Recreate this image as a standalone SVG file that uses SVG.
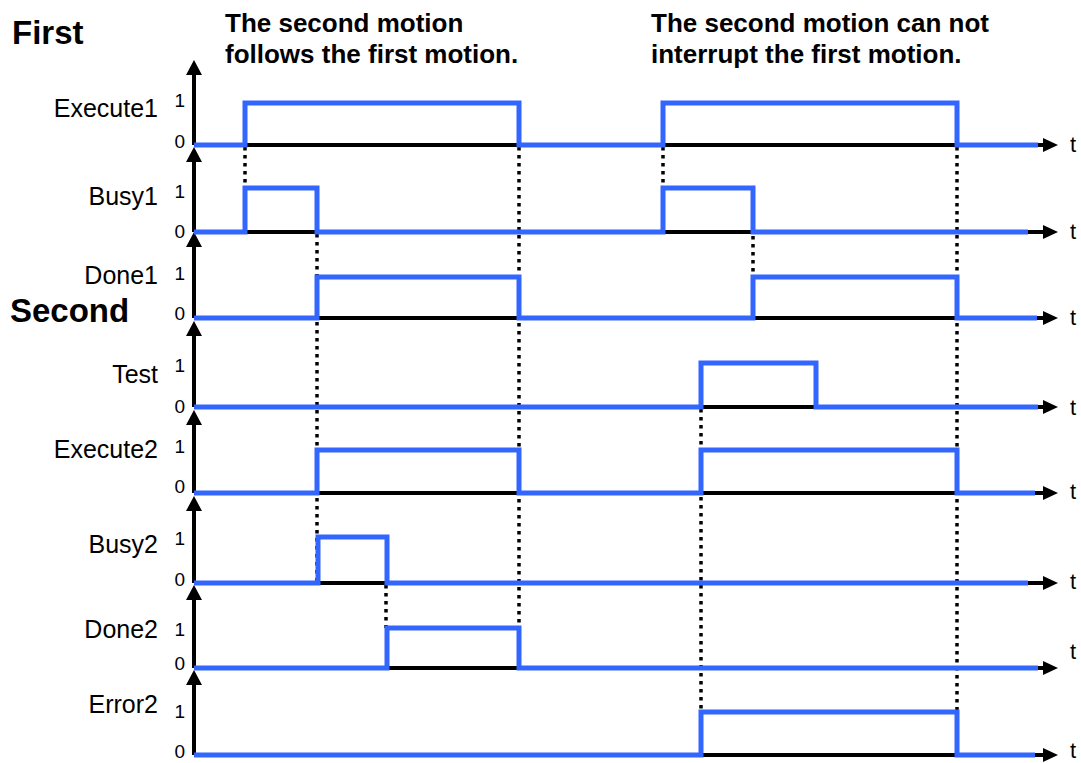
<svg xmlns="http://www.w3.org/2000/svg" width="1081" height="763" viewBox="0 0 1081 763">
<style>
.title{font-family:"Liberation Sans",Arial,sans-serif;font-weight:bold;fill:#000}
.big{font-size:33px}
.head{font-size:26px}
.lbl{font-family:"Liberation Sans",Arial,sans-serif;font-size:25px;fill:#000;text-anchor:end}
.num{font-family:"Liberation Sans",Arial,sans-serif;font-size:19px;fill:#000;text-anchor:end}
.t{font-family:"Liberation Sans",Arial,sans-serif;font-size:22px;fill:#000}
.axis{stroke:#000;stroke-width:4;fill:none}
.head-arrow{fill:#000}
.dot{stroke:#000;stroke-width:3.5;stroke-dasharray:3.5,4.5;fill:none}
.sig{stroke:#3366ff;stroke-width:5;fill:none;stroke-linejoin:miter}
</style>
<rect width="1081" height="763" fill="#fff"/>
<g id="titles">
<text class="title big" x="12" y="44">First</text>
<text class="title big" x="10" y="322">Second</text>
<text class="title head" x="225" y="32">The second motion</text>
<text class="title head" x="225" y="63">follows the first motion.</text>
<text class="title head" x="651" y="32">The second motion can not</text>
<text class="title head" x="651" y="63">interrupt the first motion.</text>
</g>
<g id="axes">
<path class="axis" d="M194,70V145M194,157V232M194,242V318M194,331V407M194,420V493M194,506V583M194,595V668M194,680V755"/>
<path class="axis" d="M194,145H1045M194,232H1045M194,318H1045M194,407H1045M194,493H1045M194,583H1045M194,668H1045M194,755H1045"/>
<g class="head-arrow">
<polygon points="194,60 186,75 202,75"/>
<polygon points="194,147 186,162 202,162"/>
<polygon points="194,232 186,247 202,247"/>
<polygon points="194,321 186,336 202,336"/>
<polygon points="194,410 186,425 202,425"/>
<polygon points="194,496 186,511 202,511"/>
<polygon points="194,585 186,600 202,600"/>
<polygon points="194,670 186,685 202,685"/>
<polygon points="1043,138 1058,145 1043,152"/>
<polygon points="1043,225 1058,232 1043,239"/>
<polygon points="1043,311 1058,318 1043,325"/>
<polygon points="1043,400 1058,407 1043,414"/>
<polygon points="1043,486 1058,493 1043,500"/>
<polygon points="1043,576 1058,583 1043,590"/>
<polygon points="1043,661 1058,668 1043,675"/>
<polygon points="1043,748 1058,755 1043,762"/>
</g>
</g>
<g id="connectors">
<path class="dot" d="M245,147V188M317,234V583M386,585V628M519,147V628M663,147V188M753,188V277M701,409V712M957,147V712"/>
</g>
<g id="row-execute1">
<text class="lbl" x="158" y="117">Execute1</text>
<text class="num" x="185" y="107">1</text>
<text class="num" x="185" y="148">0</text>
<text class="t" x="1070" y="152">t</text>
<path class="sig" d="M194,145H245V103H519V145H663V103H957V145H1038"/>
</g>
<g id="row-busy1">
<text class="lbl" x="158" y="205">Busy1</text>
<text class="num" x="185" y="198">1</text>
<text class="num" x="185" y="238">0</text>
<text class="t" x="1070" y="239">t</text>
<path class="sig" d="M194,232H245V188H317V232H663V188H753V232H1028"/>
</g>
<g id="row-done1">
<text class="lbl" x="158" y="284">Done1</text>
<text class="num" x="185" y="280">1</text>
<text class="num" x="185" y="320">0</text>
<text class="t" x="1070" y="325">t</text>
<path class="sig" d="M194,318H317V277H519V318H753V277H957V318H1037"/>
</g>
<g id="row-test">
<text class="lbl" x="158" y="383">Test</text>
<text class="num" x="185" y="372">1</text>
<text class="num" x="185" y="413">0</text>
<text class="t" x="1070" y="415">t</text>
<path class="sig" d="M194,407H701V363H816V407H1038"/>
</g>
<g id="row-execute2">
<text class="lbl" x="158" y="458">Execute2</text>
<text class="num" x="185" y="453">1</text>
<text class="num" x="185" y="493">0</text>
<text class="t" x="1070" y="499">t</text>
<path class="sig" d="M194,493H317V450H519V493H701V450H957V493H1035"/>
</g>
<g id="row-busy2">
<text class="lbl" x="158" y="553">Busy2</text>
<text class="num" x="185" y="545">1</text>
<text class="num" x="185" y="586">0</text>
<text class="t" x="1070" y="589">t</text>
<path class="sig" d="M194,583H318V537H387V583H1028"/>
</g>
<g id="row-done2">
<text class="lbl" x="158" y="638">Done2</text>
<text class="num" x="185" y="636">1</text>
<text class="num" x="185" y="670">0</text>
<text class="t" x="1070" y="659">t</text>
<path class="sig" d="M194,668H387V628H519V668H1038"/>
</g>
<g id="row-error2">
<text class="lbl" x="158" y="713">Error2</text>
<text class="num" x="185" y="718">1</text>
<text class="num" x="185" y="758">0</text>
<text class="t" x="1070" y="758">t</text>
<path class="sig" d="M194,755H701V712H957V755H1035"/>
</g>
</svg>
